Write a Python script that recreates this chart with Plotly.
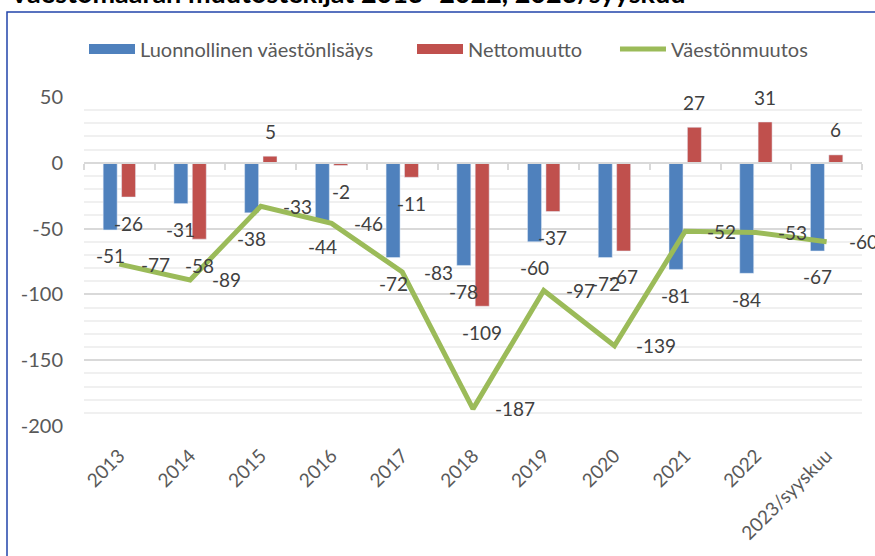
import plotly.graph_objects as go

categories = ["2013", "2014", "2015", "2016", "2017", "2018", "2019", "2020", "2021", "2022", "2023/syyskuu"]
luonnollinen = [-51, -31, -38, -44, -72, -78, -60, -72, -81, -84, -67]
nettomuutto = [-26, -58, 5, -2, -11, -109, -37, -67, 27, 31, 6]
vaestonmuutos = [-77, -89, -33, -46, -83, -187, -97, -139, -52, -53, -60]
y_ticks = [50, 0, -50, -100, -150, -200]

title_text = "Väestömäärän muutostekijät 2013–2022, 2023/syyskuu"
names = ["Luonnollinen väestönlisäys", "Nettomuutto", "Väestönmuutos"]

BLUE = "#4F81BD"
RED = "#C0504D"
GREEN = "#9BBB59"
FONT = "Lato"
LABEL_COLOR = "#404040"
TICK_COLOR = "#595959"

fig = go.Figure()
fig.add_trace(go.Bar(x=categories, y=luonnollinen, marker_color=BLUE, showlegend=False,
                     name=names[0]))
fig.add_trace(go.Bar(x=categories, y=nettomuutto, marker_color=RED, showlegend=False,
                     name=names[1]))
fig.add_trace(go.Scatter(x=categories, y=vaestonmuutos, mode="lines",
                         line=dict(color=GREEN, width=5), showlegend=False, name=names[2]))

# legend entries (Excel-style wide swatches), one legend box each
legend_x = [0.0, 0.4216, 0.6825]
for k, (nm, col, w) in enumerate([(names[0], BLUE, 12), (names[1], RED, 12), (names[2], GREEN, 5)]):
    fig.add_trace(go.Scatter(x=[categories[0]], y=[None], mode="lines", name=nm,
                             line=dict(color=col, width=w),
                             legend="legend" if k == 0 else f"legend{k + 1}"))

# dummy trace to carry the zero-level axis with boundary ticks
fig.add_trace(go.Scatter(x=categories, y=[0] * len(categories), xaxis="x2", mode="markers",
                         marker=dict(opacity=0), showlegend=False, hoverinfo="skip"))

annotations = []
font_lbl = dict(family=FONT, size=19, color=LABEL_COLOR)
for series, shift in [(luonnollinen, -9.2), (nettomuutto, 9.2)]:
    for i, v in enumerate(series):
        annotations.append(dict(x=i, y=v, xref="x", yref="y", text=str(v), showarrow=False,
                                xshift=shift, yshift=(25 if v > 0 else -26),
                                font=font_lbl, xanchor="center", yanchor="middle"))
for i, v in enumerate(vaestonmuutos):
    annotations.append(dict(x=i, y=v, xref="x", yref="y", text=str(v), showarrow=False,
                            xshift=20, xanchor="left", yanchor="middle", font=font_lbl))

annotations.append(dict(x=0, y=1, xref="paper", yref="paper", xanchor="left", yanchor="bottom",
                        xshift=-77, yshift=86, text="<b>" + title_text + "</b>", showarrow=False,
                        font=dict(family=FONT, size=27, color="#000000")))

legend_common = dict(orientation="h", xanchor="left", y=1.146, yanchor="middle",
                     font=dict(family=FONT, size=20, color=TICK_COLOR), itemwidth=46,
                     bgcolor="rgba(0,0,0,0)")

n = len(categories)
fig.update_layout(
    width=875, height=556,
    margin=dict(l=84, r=13, t=97, b=130),
    paper_bgcolor="white", plot_bgcolor="white",
    barmode="group", bargap=0.48, bargroupgap=0.24,
    font=dict(family=FONT, size=18, color=TICK_COLOR),
    legend=dict(x=legend_x[0], **legend_common),
    legend2=dict(x=legend_x[1], **legend_common),
    legend3=dict(x=legend_x[2], **legend_common),
    annotations=annotations,
    shapes=[dict(type="rect", xref="paper", yref="paper",
                 x0=(7 - 84) / 778, x1=1.2, y0=-0.5, y1=(426 - 12) / 329,
                 line=dict(color="#2244AA", width=1.5), fillcolor="rgba(0,0,0,0)", layer="above")],
    xaxis=dict(type="category", categoryorder="array", categoryarray=categories,
               range=[-0.5, n - 0.5], tickangle=-45, showgrid=False, showline=False,
               zeroline=False, ticks="", tickfont=dict(family=FONT, size=19, color=TICK_COLOR),
               ticklabelstandoff=14),
    xaxis2=dict(type="category", categoryorder="array", categoryarray=categories,
                range=[-0.5, n - 0.5], overlaying="x", anchor="free", position=0.8,
                side="bottom", showline=True, linecolor="#D9D9D9", linewidth=1.5,
                ticks="outside", tickson="boundaries", ticklen=6, tickcolor="#D9D9D9",
                tickwidth=1.5, showticklabels=False, showgrid=False, zeroline=False),
    yaxis=dict(range=[-200, 50], tickvals=y_ticks, ticktext=[str(v) for v in y_ticks],
               showgrid=True, gridcolor="#D9D9D9",
               gridwidth=1.5, zeroline=False, showline=False, ticks="",
               tickfont=dict(family=FONT, size=20, color=TICK_COLOR), ticklabelstandoff=20,
               minor=dict(dtick=10, showgrid=True, gridcolor="#F0F0F0", gridwidth=1.5)),
)

fig.write_html("out.html", config={"displayModeBar": False},
               post_script="document.body.style.margin='0';")
